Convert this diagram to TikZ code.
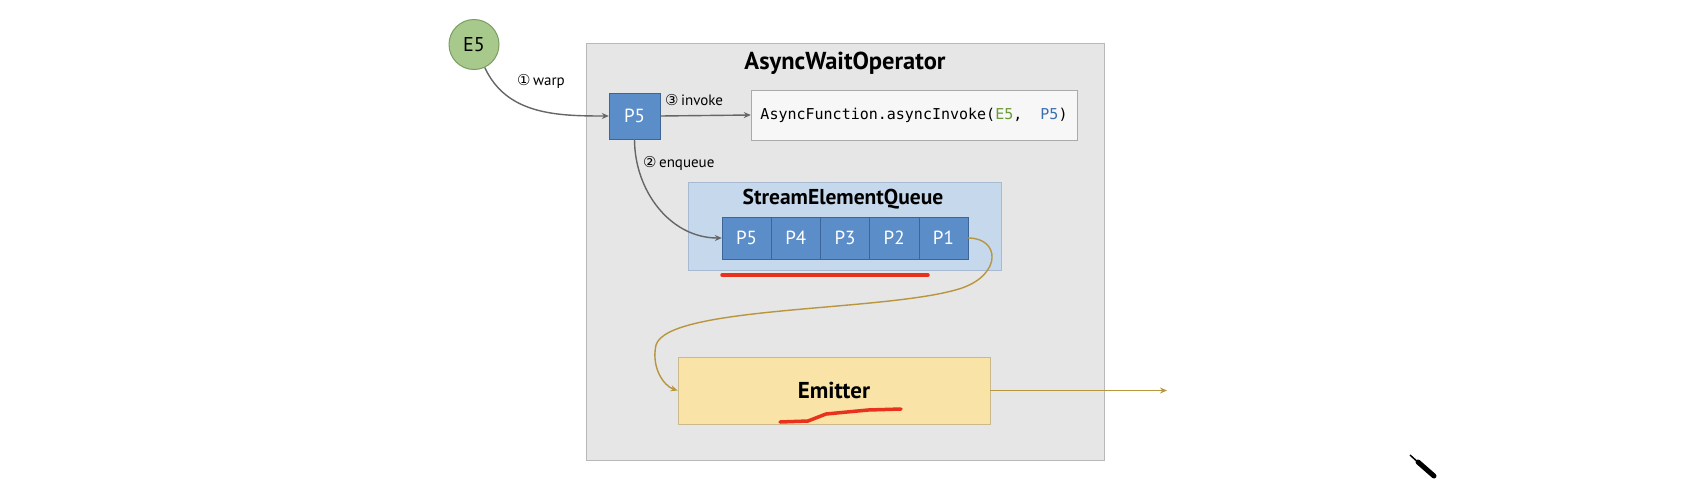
\documentclass[tikz,border=0pt]{standalone}
\usepackage{fontspec}
\setmainfont{PT Sans}
\newfontfamily\symfont{DejaVu Sans}
\newfontfamily\codefont{DejaVu Sans Mono}
\usetikzlibrary{arrows.meta}
\definecolor{outerfill}{HTML}{E6E6E6}
\definecolor{outerdraw}{HTML}{B8B8B8}
\definecolor{cellblue}{HTML}{5B8DC9}
\definecolor{celldraw}{HTML}{3D6597}
\definecolor{queuefill}{HTML}{C6D8EC}
\definecolor{queuedraw}{HTML}{A7BAD2}
\definecolor{invfill}{HTML}{F7F7F7}
\definecolor{invdraw}{HTML}{AAAAAA}
\definecolor{emitfill}{HTML}{FAE3A6}
\definecolor{emitdraw}{HTML}{C9B98C}
\definecolor{e5fill}{HTML}{A8C98C}
\definecolor{e5draw}{HTML}{7C9C62}
\definecolor{gold}{HTML}{B8963E}
\definecolor{arrowgray}{HTML}{666666}
\definecolor{codegreen}{HTML}{6A9A3A}
\definecolor{codeblue}{HTML}{3A6FB0}
\definecolor{redmark}{HTML}{E8321E}
\begin{document}
\begin{tikzpicture}[x=1pt,y=-1pt,
  cellbox/.style={draw=celldraw, fill=cellblue, text=white, minimum width=49.2pt, minimum height=42pt, inner sep=0pt, font=\fontsize{19}{21}\selectfont},
  grayarrow/.style={draw=arrowgray, line width=1.4pt, -{Stealth[length=7pt,width=6pt]}},
  goldarrow/.style={draw=gold, line width=1.4pt, -{Stealth[length=7pt,width=6pt]}},
  lbl/.style={font=\fontsize{15}{17}\selectfont, inner sep=0pt},
  redline/.style={draw=redmark, line width=3.5pt, line cap=round, line join=round}
]
\useasboundingbox (0,0) rectangle (1702,480);
\fill[white] (0,0) rectangle (1702,480);

% outer operator box
\node[draw=outerdraw, fill=outerfill, minimum width=518pt, minimum height=417pt, line width=0.8pt] (outer) at (845,251.5) {};
\node[font=\fontsize{24.5}{28}\selectfont\bfseries] (title) at (845,63) {AsyncWaitOperator};

% E5 circle
\node[circle, draw=e5draw, fill=e5fill, line width=1pt, minimum size=50pt, inner sep=0pt, font=\fontsize{20}{22}\selectfont] (e5) at (474,44.5) {E5};

% P5 box
\node[draw=celldraw, fill=cellblue, text=white, minimum width=51pt, minimum height=46pt, inner sep=0pt, font=\fontsize{19}{21}\selectfont] (p5) at (634.5,116) {P5};

% invoke box
\node[draw=invdraw, fill=invfill, minimum width=326pt, minimum height=50pt, inner sep=0pt, font=\codefont\fontsize{15}{17}\selectfont] (inv) at (914,115)
  {AsyncFunction.asyncInvoke(\textcolor{codegreen}{E5},\ \ \textcolor{codeblue}{P5})};

% queue box
\node[draw=queuedraw, fill=queuefill, minimum width=313pt, minimum height=88pt, line width=0.8pt] (queue) at (844.5,226) {};
\node[font=\fontsize{21.5}{24}\selectfont\bfseries] (qtitle) at (843,199) {StreamElementQueue};
\node[cellbox] (q5) at (746.6,238) {P5};
\node[cellbox] (q4) at (795.8,238) {P4};
\node[cellbox] (q3) at (845.0,238) {P3};
\node[cellbox] (q2) at (894.2,238) {P2};
\node[cellbox] (q1) at (943.4,238) {P1};

% emitter
\node[draw=emitdraw, fill=emitfill, minimum width=312pt, minimum height=67pt, line width=0.8pt, font=\fontsize{23}{26}\selectfont\bfseries] (emit) at (834,390.5) {Emitter};
\coordinate (outend) at (1167,390.5);

% connectors
\draw[grayarrow] (e5) to[out=-65,in=180] (p5.west);
\node[lbl, anchor=west] (l1) at (517,81) {{\symfont ①}\,warp};
\draw[grayarrow] (p5.east) -- (inv.west);
\node[lbl, anchor=west] (l3) at (665,100) {{\symfont ③}\,invoke};
\draw[grayarrow] (p5.south) to[out=-90,in=180] (q5.west);
\node[lbl, anchor=west] (l2) at (643,163) {{\symfont ②}\,enqueue};

\draw[goldarrow] (q1.east) .. controls (1000,238) and (1002,274) .. (962,288)
   .. controls (890,312) and (668,305) .. (656,345)
   .. controls (651,368) and (664,386) .. (emit.west);
\draw[goldarrow] (emit.east) -- (outend);

% red annotations
\draw[redline] (722,275) -- (928,275);
\draw[redline] (780,422) -- (808,421) -- (826,414) -- (868,410) -- (901,409);

% pen cursor
\draw[black, line width=5pt, line cap=round] (1418,462) -- (1434,476);
\draw[black, line width=1.5pt] (1410,455) -- (1420,464);
\end{tikzpicture}
\end{document}
